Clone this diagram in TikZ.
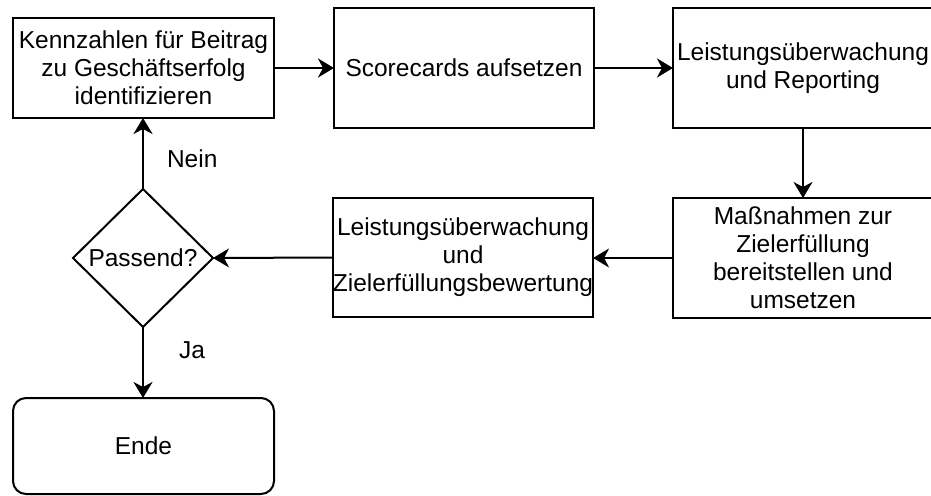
\documentclass[tikz,border=0pt]{standalone}
\usepackage{fontspec}
\setmainfont{Liberation Sans}
\usetikzlibrary{shapes.geometric,arrows.meta}
\begin{document}
\begin{tikzpicture}[x=1pt,y=-1pt,
  font=\fontsize{24.5}{28}\selectfont,
  every node/.style={inner sep=0pt, outer sep=0pt, align=center},
  stepbox/.style={draw, line width=2pt, rectangle, minimum width=260pt, minimum height=120pt},
  endbox/.style={draw, line width=2pt, rectangle, rounded corners=13pt, minimum width=261pt, minimum height=96pt},
  decision/.style={draw, line width=2pt, diamond, minimum width=140pt, minimum height=138pt},
  flow/.style={line width=2pt, -{Stealth[length=16pt, width=19pt, inset=5pt]}},
  edgelabel/.style={anchor=west}
]
\useasboundingbox (0,0) rectangle (931,495);

% process steps
\node[stepbox, minimum width=261pt, minimum height=100pt] (b1) at (143.5,68)
  {Kennzahlen für Beitrag\\zu Geschäftserfolg\\identifizieren};
\node[stepbox] (b2) at (464,68) {Scorecards aufsetzen};
\node[stepbox] (b3) at (803,68) {Leistungsüberwachung\\und Reporting};
\node[stepbox] (b4) at (803,258) {Maßnahmen zur\\Zielerfüllung\\bereitstellen und\\umsetzen};
\node[stepbox, minimum height=119pt] (b5) at (463,257.5)
  {Leistungsüberwachung\\und\\Zielerfüllungsbewertung};

% decision and end
\node[decision] (dia) at (143,258) {Passend?};
\node[endbox] (ende) at (143.5,446) {Ende};

% connectors
\draw[flow] (b1.east) -- (b2.west);
\draw[flow] (b2.east) -- (b3.west);
\draw[flow] (b3.south) -- (b4.north);
\draw[flow] (b4.west) -- (b4.west -| b5.east);
\draw[flow] (b5.west) -- (dia.east);
\draw[flow] (dia.north) -- (dia.north |- b1.south)
  node[edgelabel, pos=0.42, xshift=24pt] (nein) {Nein};
\draw[flow] (dia.south) -- (dia.south |- ende.north)
  node[edgelabel, pos=0.32, xshift=36pt] (ja) {Ja};
\end{tikzpicture}
\end{document}
